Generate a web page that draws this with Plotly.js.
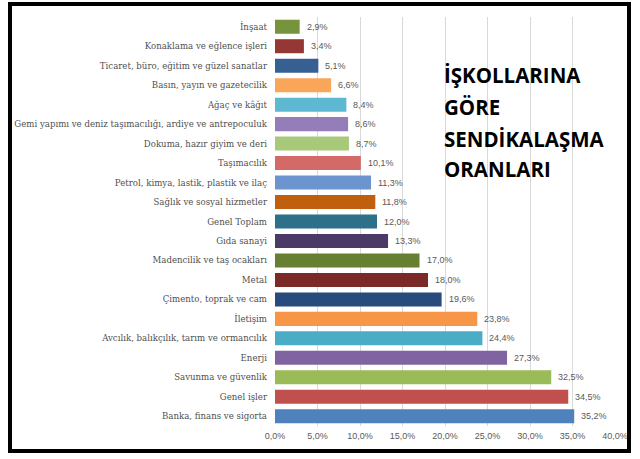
<!DOCTYPE html>
<html>
<head>
<meta charset="utf-8">
<script src="https://cdn.plot.ly/plotly-3.0.1.min.js"></script>
<style>
  html, body { margin: 0; padding: 0; background: #fff; }
  #wrap { position: relative; width: 640px; height: 459px; overflow: hidden; }
  #chart { position: absolute; left: 0; top: 0; width: 640px; height: 459px; }
  #frame { position: absolute; left: 8px; top: 2px; width: 623px; height: 451px;
           box-sizing: border-box; border: 4px solid #000; pointer-events: none; }
</style>
</head>
<body>
<div id="wrap">
  <div id="chart"></div>
  <div id="frame"></div>
</div>
<script>
// Data (top to bottom)
const categories = [
  "İnşaat",
  "Konaklama ve eğlence işleri",
  "Ticaret, büro, eğitim ve güzel sanatlar",
  "Basın, yayın ve gazetecilik",
  "Ağaç ve kâğıt",
  "Gemi yapımı ve deniz taşımacılığı, ardiye ve antrepoculuk",
  "Dokuma, hazır giyim ve deri",
  "Taşımacılık",
  "Petrol, kimya, lastik, plastik ve ilaç",
  "Sağlık ve sosyal hizmetler",
  "Genel Toplam",
  "Gıda sanayi",
  "Madencilik ve taş ocakları",
  "Metal",
  "Çimento, toprak ve cam",
  "İletişim",
  "Avcılık, balıkçılık, tarım ve ormancılık",
  "Enerji",
  "Savunma ve güvenlik",
  "Genel işler",
  "Banka, finans ve sigorta"
];
const values = [2.9, 3.4, 5.1, 6.6, 8.4, 8.6, 8.7, 10.1, 11.3, 11.8, 12.0, 13.3, 17.0, 18.0, 19.6, 23.8, 24.4, 27.3, 32.5, 34.5, 35.2];
const barColors = [
  "#77933C", "#953735", "#376092", "#F9A65A", "#5EB8D2", "#957DBA", "#A9C97A",
  "#D46A67", "#6C95D0", "#C0600E", "#2C7189", "#4B3A66", "#667F33", "#7B2A28",
  "#274B7C", "#F79646", "#4BACC6", "#8064A2", "#9BBB59", "#C0504D", "#4F81BD"
];
const tickValues = [0, 5, 10, 15, 20, 25, 30, 35, 40];
const tickLabels = ["0,0%", "5,0%", "10,0%", "15,0%", "20,0%", "25,0%", "30,0%", "35,0%", "40,0%"];
const titleLines = ["İŞKOLLARINA", "GÖRE", "SENDİKALAŞMA", "ORANLARI"];

const fmt = v => v.toFixed(1).replace('.', ',') + '%';

const W = 640, H = 459;
const margin = { l: 275, r: 25, t: 17, b: 33 };
const plotW = W - margin.l - margin.r;
const plotH = H - margin.t - margin.b;
const px2paperX = px => (px - margin.l) / plotW;
const px2paperY = py => 1 - (py - margin.t) / plotH;

const trace = {
  type: 'bar',
  orientation: 'h',
  x: values,
  y: categories,
  marker: { color: barColors, line: { width: 0 } },
  hoverinfo: 'none'
};

const valueAnnotations = values.map((v, i) => ({
  x: v, y: categories[i], xref: 'x', yref: 'y',
  text: fmt(v), showarrow: false, xanchor: 'left', yanchor: 'middle',
  xshift: 5,
  font: { family: 'Liberation Sans, Arial, sans-serif', size: 9, color: '#595959' }
}));

const titleY = [75, 107, 139, 169];
const titleAnnotations = titleLines.map((t, i) => ({
  x: px2paperX(442), y: px2paperY(titleY[i]), xref: 'paper', yref: 'paper',
  text: '<b>' + t + '</b>', showarrow: false, xanchor: 'left', yanchor: 'middle',
  font: { family: 'Open Sans, sans-serif', size: 20.5, color: '#000' }
}));

const layout = {
  width: W, height: H,
  margin: margin,
  paper_bgcolor: '#fff',
  plot_bgcolor: '#fff',
  showlegend: false,
  bargap: 0.28,
  xaxis: {
    range: [0, 40],
    tickvals: tickValues,
    ticktext: tickLabels,
    showgrid: true,
    gridcolor: '#d9d9d9',
    gridwidth: 1,
    zeroline: false,
    showline: false,
    ticks: '',
    ticklabelstandoff: 3,
    tickfont: { family: 'Liberation Sans, Arial, sans-serif', size: 9, color: '#595959' },
    fixedrange: true
  },
  yaxis: {
    type: 'category',
    autorange: 'reversed',
    showgrid: false,
    zeroline: false,
    showline: false,
    ticks: '',
    ticklabelstandoff: 7,
    tickfont: { family: 'DejaVu Serif, serif', size: 8.6, color: '#505050' },
    fixedrange: true
  },
  annotations: valueAnnotations.concat(titleAnnotations)
};

Plotly.newPlot('chart', [trace], layout, { displayModeBar: false, staticPlot: true });
</script>
</body>
</html>
